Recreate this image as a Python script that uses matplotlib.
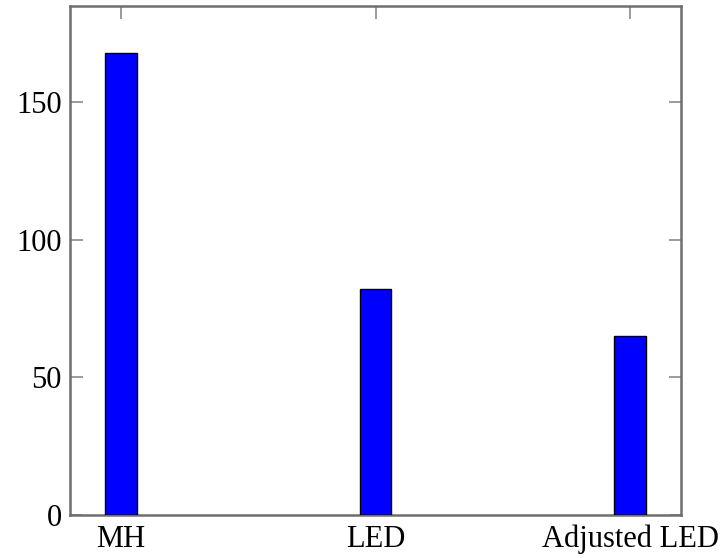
import matplotlib
matplotlib.use("Agg")
import matplotlib.pyplot as plt

# values
categories = ["MH", "LED", "Adjusted LED"]
values = [168, 82, 65]

plt.rcParams["font.family"] = ["Liberation Serif", "DejaVu Serif"]

fig = plt.figure(figsize=(7.24, 5.58), dpi=100)
ax = fig.add_axes([70 / 724, 1 - 515 / 558, 611 / 724, 509 / 558])

x = list(range(len(categories)))
ax.bar(x, values, width=0.125, color="#0000ff", edgecolor="black", linewidth=1.0, zorder=3)

ax.set_xlim(-0.2, 2.2)
ax.set_ylim(0, 185)
ax.set_xticks(x)
ax.set_xticklabels(categories)
ax.set_yticks([0, 50, 100, 150])

for s in ax.spines.values():
    s.set_color("#6e6e6e")
    s.set_linewidth(1.8)

ax.tick_params(axis="both", direction="in", length=9, width=1.2, color="#8a8a8a",
               labelsize=22, top=True, right=True, pad=6)
ax.tick_params(axis="x", pad=7)

fig.savefig("out.png", dpi=100)
